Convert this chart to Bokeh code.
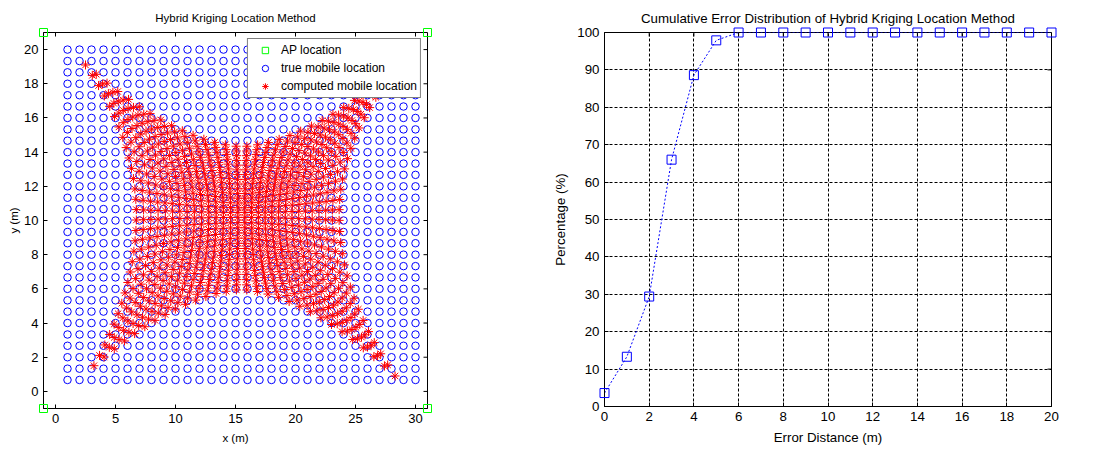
import numpy as np
from bokeh.plotting import figure
from bokeh.layouts import row
from bokeh.models import Range1d, FixedTicker, Legend, LegendItem
from bokeh.embed import file_html
from bokeh.resources import INLINE

# ---------------- data: left panel ----------------
ap_x = [-1, 31, -1, 31]
ap_y = [-1, -1, 21, 21]
true_cols = [1, 2, 3, 4, 5, 6, 7, 8, 9, 10, 11, 12, 13, 14, 15,
             16, 17, 18, 19, 20, 21, 22, 23, 24, 25, 26, 27, 28, 29, 30]
true_rows = [0.67, 1.33, 2.0, 2.67, 3.33, 4.0, 4.67, 5.33, 6.0, 6.67,
             7.33, 8.0, 8.67, 9.33, 10.0, 10.67, 11.33, 12.0, 12.67, 13.33,
             14.0, 14.67, 15.33, 16.0, 16.67, 17.33, 18.0, 18.67, 19.33, 20.0]
# computed-location layout
mid_row_x_span = (6.74, 23.63)    # computed x span along the middle rows
mid_col_y_span = (5.95, 14.33)    # computed y span along the middle columns
corner_tl = (2.5, 19.1)           # computed position of true corner (1, 20)
corner_tr = (28.5, 19.0)          # (30, 20)  (hidden by legend)
corner_bl = (3.2, 1.5)            # (1, 0.67)
corner_br = (28.3, 0.9)           # (30, 0.67)
left_xticks = [0, 5, 10, 15, 20, 25, 30]
left_yticks = [0, 2, 4, 6, 8, 10, 12, 14, 16, 18, 20]

# ---------------- data: right panel ----------------
err_dist = [0, 1, 2, 3, 4, 5, 6, 7, 8, 9, 10, 11, 12, 13, 14, 15, 16, 17, 18, 19, 20]
pct = [3.6, 13.3, 29.4, 66.0, 88.6, 97.9, 100, 100, 100, 100, 100,
       100, 100, 100, 100, 100, 100, 100, 100, 100, 100]
right_xticks = [0, 2, 4, 6, 8, 10, 12, 14, 16, 18, 20]
right_yticks = [0, 10, 20, 30, 40, 50, 60, 70, 80, 90, 100]

# ---------------- computed points (distorted grid) ----------------
cx, cy = 15.5, 10.333
hx, hy = 14.5, 9.667
tx, ty, comp_x, comp_y = [], [], [], []
for yt in true_rows:
    for xt in true_cols:
        u = (xt - cx) / hx
        v = (yt - cy) / hy
        tx.append(xt); ty.append(yt)
        a0 = (cx - mid_row_x_span[0]) / hx if u < 0 else (mid_row_x_span[1] - cx) / hx
        b0 = (cy - mid_col_y_span[0]) / hy if v < 0 else (mid_col_y_span[1] - cy) / hy
        if u < 0 and v >= 0:
            c = corner_tl
        elif u >= 0 and v >= 0:
            c = corner_tr
        elif u < 0:
            c = corner_bl
        else:
            c = corner_br
        A = abs(c[0] - cx) / hx
        B = abs(c[1] - cy) / hy
        up = u * (a0 + (A - a0) * abs(v) ** 2)
        vp = v * (b0 + (B - b0) * abs(u) ** 1.7)
        comp_x.append(cx + hx * up)
        comp_y.append(cy + hy * vp)

FONT = "Liberation Sans"


def style(p, xt, yt, tick_fs, label_fs, title_fs):
    bottom = p.below[0]
    left = p.left[0]
    bottom.ticker = FixedTicker(ticks=xt)
    left.ticker = FixedTicker(ticks=yt)
    for ax in (bottom, left):
        ax.major_tick_in = 4
        ax.major_tick_out = 0
        ax.minor_tick_line_color = None
        ax.axis_line_color = "black"
        ax.major_tick_line_color = "black"
        ax.major_label_text_color = "black"
        ax.major_label_text_font = FONT
        ax.major_label_text_font_size = tick_fs
        ax.major_label_standoff = 5
        ax.axis_label_text_font = FONT
        ax.axis_label_text_font_style = "normal"
        ax.axis_label_text_color = "black"
        ax.axis_label_text_font_size = label_fs
    # inward ticks on the top and right edges of the box
    ytop = p.y_range.end
    xright = p.x_range.end
    p.ray(x=xt, y=[ytop] * len(xt), length=4, length_units="screen",
          angle=-np.pi / 2, line_color="black", line_width=1)
    p.ray(x=[xright] * len(yt), y=yt, length=4, length_units="screen",
          angle=np.pi, line_color="black", line_width=1)
    p.outline_line_color = "black"
    p.title.text_font = FONT
    p.title.text_font_size = title_fs
    p.title.text_font_style = "normal"
    p.title.align = "center"
    p.title.text_color = "black"


# ---------------- left figure ----------------
p1 = figure(frame_width=384, frame_height=376, output_backend="svg", toolbar_location=None,
            x_range=Range1d(-1, 31), y_range=Range1d(-1, 21),
            title="Hybrid Kriging Location Method",
            x_axis_label="x (m)", y_axis_label="y (m)",
            min_border_left=43, min_border_right=106, min_border_top=31, min_border_bottom=34)
p1.grid.visible = False
r_ap = p1.scatter(ap_x, ap_y, marker="square", size=8, fill_color=None, line_color="#00ff00",
                  line_width=1, level="overlay")
r_true = p1.scatter(tx, ty, marker="circle", size=7.5, fill_color=None, line_color="#0000ff", line_width=1)
r_comp = p1.scatter(comp_x, comp_y, marker="asterisk", size=9, line_color="#ff0000", line_width=1)
style(p1, left_xticks, left_yticks, "13px", "11.5px", "11.5px")
p1.below[0].axis_label_standoff = 6
p1.left[0].axis_label_standoff = 1
p1.title.standoff = 17

legend = Legend(items=[LegendItem(label="AP location", renderers=[r_ap]),
                       LegendItem(label="true mobile location", renderers=[r_true]),
                       LegendItem(label="computed mobile location", renderers=[r_comp])],
                location="top_right", margin=6, padding=3, spacing=2,
                glyph_width=28, glyph_height=16, label_height=16, label_standoff=2,
                label_text_font=FONT, label_text_font_size="12px", label_text_color="black",
                border_line_color="black", border_line_width=1, background_fill_alpha=1.0)
p1.add_layout(legend)

# ---------------- right figure ----------------
p2 = figure(frame_width=447, frame_height=374, output_backend="svg", toolbar_location=None,
            x_range=Range1d(0, 20), y_range=Range1d(0, 100),
            title="Cumulative Error Distribution of Hybrid Kriging Location Method",
            x_axis_label="Error Distance (m)", y_axis_label="Percentage (%)",
            min_border_left=71, min_border_right=28, min_border_top=32, min_border_bottom=34)
p2.grid.grid_line_color = "black"
p2.grid.grid_line_dash = "3 2"
p2.grid.grid_line_width = 1
p2.line(err_dist, pct, line_color="#0000ff", line_dash="2 2", line_width=1)
p2.scatter(err_dist, pct, marker="square", size=9, fill_color=None, line_color="#0000ff",
           line_width=1, level="overlay")
style(p2, right_xticks, right_yticks, "13.3px", "13.3px", "13.3px")
p2.xgrid.ticker = FixedTicker(ticks=right_xticks)
p2.ygrid.ticker = FixedTicker(ticks=right_yticks)
p2.below[0].axis_label_standoff = 6
p2.left[0].axis_label_standoff = 6
p2.title.standoff = 13

layout = row(p1, p2, spacing=0)
open("out.html", "w").write(file_html(layout, INLINE))
